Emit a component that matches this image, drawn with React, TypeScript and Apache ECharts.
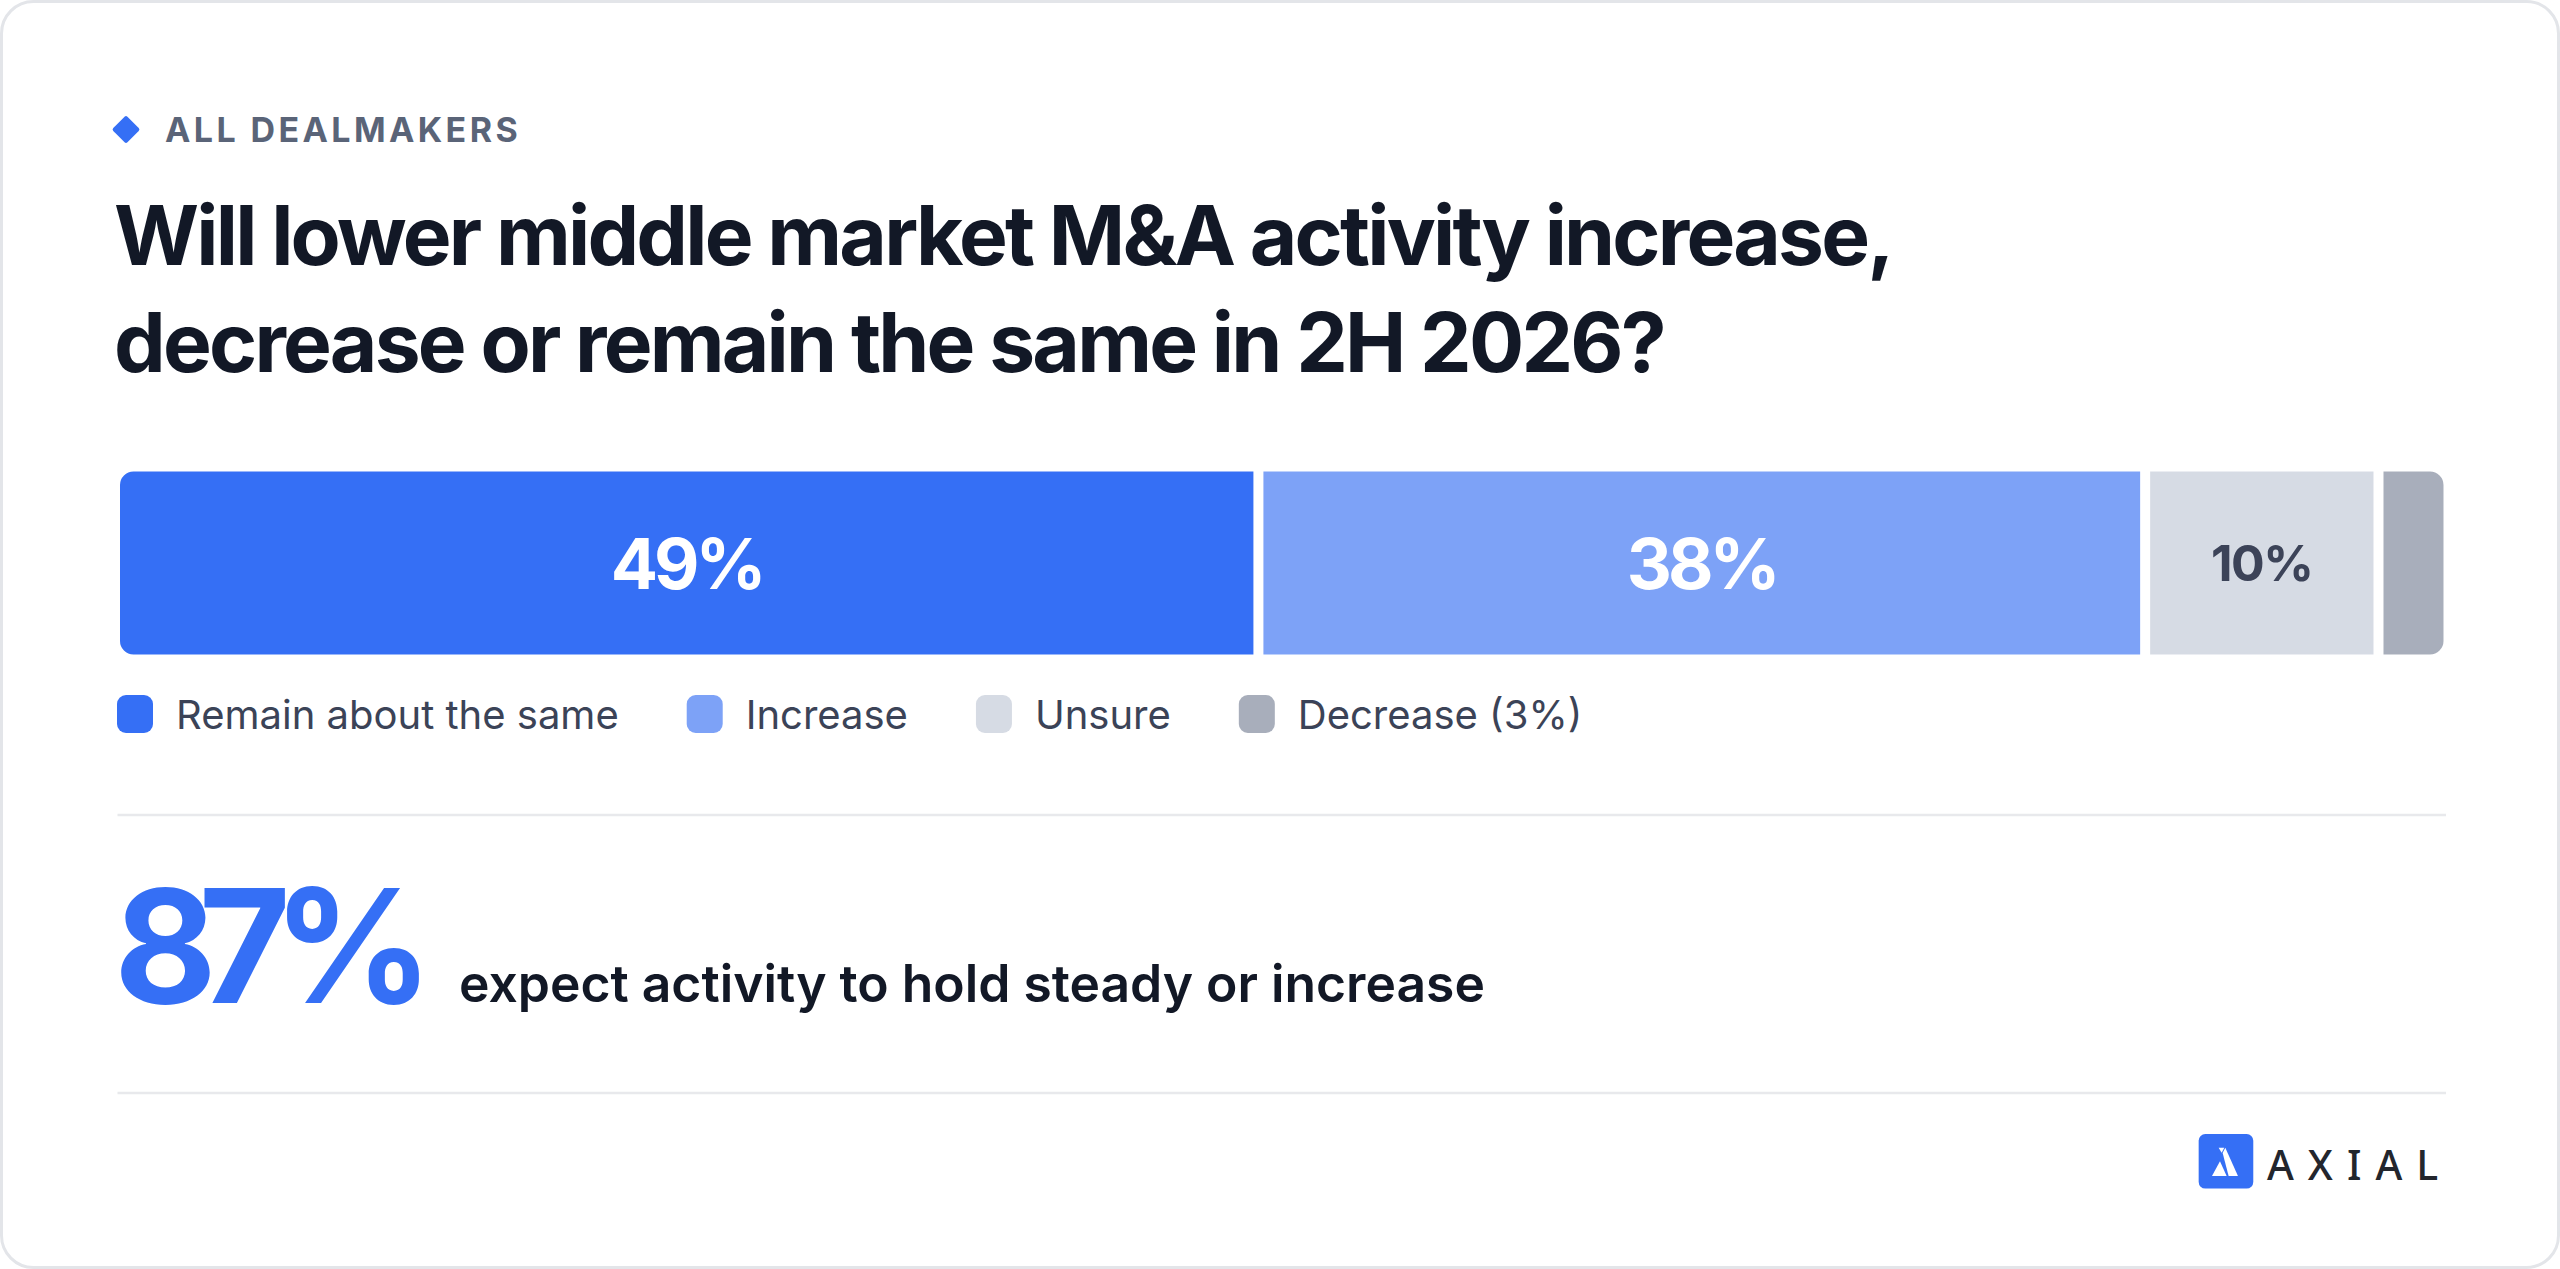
import React, { useEffect, useRef } from "react";
import * as echarts from "echarts";

const categories = ["All dealmakers"];
const seriesNames = ["Remain about the same", "Increase", "Unsure", "Decrease"];
const seriesValues = [49, 38, 10, 3];
const seriesColors = ["#356ff5", "#7da2f7", "#d6dbe4", "#a8aebb"];
const headerLabel = "ALL DEALMAKERS";
const titleLines = [
  "Will lower middle market M&A activity increase,",
  "decrease or remain the same in 2H 2026?",
];
const highlightText = "expect activity to hold steady or increase";
const brandName = "AXIAL";

const FONT = "Inter";

// letter-spacing tweaks for specific text sizes (SVG text)
const css = `
#root svg text[style*="82px"] { letter-spacing: -2.8px; }
#root svg text[style*="158px"] { letter-spacing: -18px; }
#root svg text[style*="70px"] { letter-spacing: -4px; }
#root svg text[style*="50px"] { letter-spacing: -1.5px; }
#root svg text[style*="34px"] { letter-spacing: 3.4px; }
#root svg text[style*="41px"] { letter-spacing: 14px; }
`;

export default function App() {
  const ref = useRef<HTMLDivElement>(null);

  useEffect(() => {
    document.body.style.margin = "0";
    if (!ref.current) return;
    const chart = echarts.init(ref.current, undefined, { renderer: "svg" });

    const steadyOrUp = seriesValues[0] + seriesValues[1];
    const last = seriesValues.length - 1;

    const series = seriesNames.map((name, i) => ({
      name,
      type: "bar",
      stack: "total",
      barWidth: 193,
      data: [seriesValues[i]],
      itemStyle: {
        color: seriesColors[i],
        borderColor: "#ffffff",
        borderWidth: 5,
        borderRadius: i === 0 ? [16, 0, 0, 16] : i === last ? [0, 16, 16, 0] : 0,
      },
      label: {
        show: i < 3,
        position: "inside",
        formatter: "{c}%",
        fontFamily: FONT,
        fontWeight: 700,
        fontSize: i === 2 ? 50 : 70,
        color: i === 2 ? "#3c4358" : "#ffffff",
      },
      emphasis: { disabled: true },
    }));

    const option = {
      animation: false,
      backgroundColor: "#ffffff",
      grid: { left: 115, right: 111.5, top: 466.5, height: 193, containLabel: false },
      xAxis: { type: "value", min: 0, max: 100, show: false },
      yAxis: { type: "category", data: categories, show: false },
      legend: {
        left: 117,
        top: 694,
        padding: 0,
        itemWidth: 36,
        itemHeight: 38,
        itemGap: 68,
        icon: "roundRect",
        selectedMode: false,
        itemStyle: { borderWidth: 0 },
        data: seriesNames,
        formatter: (name: string) =>
          name === seriesNames[last] ? `${name} (${seriesValues[last]}%)` : name,
        textStyle: {
          fontFamily: FONT,
          fontSize: 40,
          color: "#3b4357",
          padding: [0, 0, 0, 18],
        },
      },
      series,
      graphic: [
        {
          type: "rect",
          silent: true,
          shape: { x: 1.5, y: 1.5, width: 2557, height: 1266, r: 32 },
          style: { fill: "none", stroke: "#e3e5e9", lineWidth: 3 },
        },
        {
          type: "rect",
          x: 126,
          y: 129.5,
          rotation: Math.PI / 4,
          shape: { x: -10, y: -10, width: 20, height: 20, r: 2 },
          style: { fill: "#356ff5" },
        },
        {
          type: "text",
          x: 165,
          y: 129.5,
          style: {
            text: headerLabel,
            fontFamily: FONT,
            fontWeight: 700,
            fontSize: 34,
            fill: "#5a6478",
            align: "left",
            verticalAlign: "middle",
          },
        },
        ...titleLines.map((t, i) => ({
          type: "text",
          x: 114,
          y: 235 + i * 107,
          style: {
            text: t,
            fontFamily: FONT,
            fontWeight: 700,
            fontSize: 82,
            fill: "#121826",
            align: "left",
            verticalAlign: "middle",
          },
        })),
        {
          type: "line",
          shape: { x1: 117.5, y1: 815, x2: 2446, y2: 815 },
          style: { stroke: "#e8e9ec", lineWidth: 2.5 },
        },
        {
          type: "text",
          x: 114,
          y: 945.5,
          style: {
            text: `${steadyOrUp}%`,
            fontFamily: FONT,
            fontWeight: 700,
            fontSize: 158,
            fill: "#356ff5",
            align: "left",
            verticalAlign: "middle",
          },
        },
        {
          type: "text",
          x: 459,
          y: 983,
          style: {
            text: highlightText,
            fontFamily: FONT,
            fontWeight: 600,
            fontSize: 51.6,
            fill: "#121826",
            align: "left",
            verticalAlign: "middle",
          },
        },
        {
          type: "line",
          shape: { x1: 117.5, y1: 1093, x2: 2446, y2: 1093 },
          style: { stroke: "#e8e9ec", lineWidth: 2.5 },
        },
        {
          type: "group",
          x: 2196,
          y: 1132,
          scaleX: 1 / 3,
          scaleY: 1 / 3,
          children: [
            {
              type: "rect",
              shape: { x: 8, y: 6, width: 164, height: 164, r: 20 },
              style: { fill: "#356ff5" },
            },
            {
              type: "polygon",
              shape: { points: [[68, 47], [85, 47], [77, 62]] },
              style: { fill: "#ffffff" },
            },
            {
              type: "polygon",
              shape: { points: [[88, 47], [126, 132], [98, 132], [80, 63]] },
              style: { fill: "#ffffff" },
            },
            {
              type: "polygon",
              shape: { points: [[48, 132], [72, 88], [92, 132]] },
              style: { fill: "#ffffff" },
            },
          ],
        },
        {
          type: "text",
          x: 2267,
          y: 1164,
          style: {
            text: brandName,
            fontFamily: "Noto Sans",
            fontWeight: 500,
            fontSize: 41,
            fill: "#23262d",
            align: "left",
            verticalAlign: "middle",
          },
        },
      ],
    };

    chart.setOption(option as any);
    return () => chart.dispose();
  }, []);

  return (
    <>
      <style>{css}</style>
      <div ref={ref} style={{ width: 2560, height: 1269 }} />
    </>
  );
}
